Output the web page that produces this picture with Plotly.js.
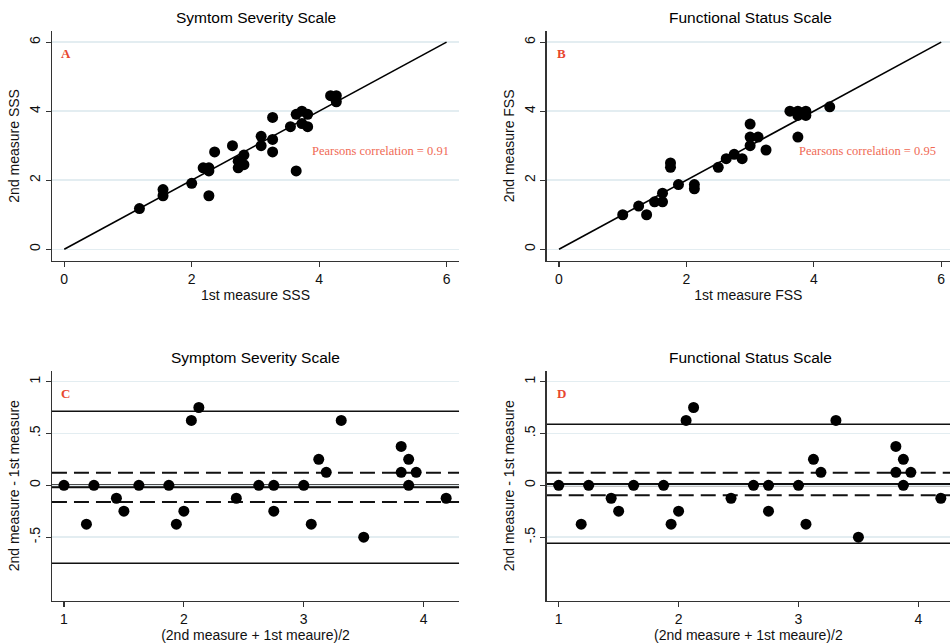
<!DOCTYPE html>
<html>
<head>
<meta charset="utf-8">
<script src="https://cdn.plot.ly/plotly-3.0.1.min.js"></script>
<style>html,body{margin:0;padding:0;background:#fff;}#chart{width:950px;height:644px;}</style>
</head>
<body>
<div id="chart"></div>
<script>
// Panel A: Symptom Severity Scale, test-retest
const sssFirst  = [1.18, 1.55, 1.55, 2.00, 2.18, 2.27, 2.27, 2.27, 2.36, 2.64, 2.73, 2.73, 2.82, 2.82, 3.09, 3.09, 3.27, 3.27, 3.27, 3.55, 3.64, 3.64, 3.73, 3.73, 3.82, 3.82, 4.18, 4.27, 4.27];
const sssSecond = [1.18, 1.73, 1.55, 1.91, 2.36, 2.36, 2.27, 1.55, 2.82, 3.00, 2.36, 2.55, 2.73, 2.45, 3.00, 3.27, 3.82, 3.18, 2.82, 3.55, 3.91, 2.27, 4.00, 3.64, 3.91, 3.55, 4.45, 4.45, 4.27];
// Panel B: Functional Status Scale, test-retest
const fssFirst  = [1.000, 1.250, 1.375, 1.500, 1.625, 1.625, 1.750, 1.750, 1.875, 2.125, 2.125, 2.500, 2.625, 2.750, 2.875, 3.000, 3.000, 3.000, 3.125, 3.250, 3.625, 3.750, 3.750, 3.750, 3.875, 3.875, 4.250];
const fssSecond = [1.000, 1.250, 1.000, 1.375, 1.375, 1.625, 2.500, 2.375, 1.875, 1.875, 1.750, 2.375, 2.625, 2.750, 2.625, 3.625, 3.250, 3.000, 3.250, 2.875, 4.000, 4.000, 3.250, 3.875, 4.000, 3.875, 4.125];
const identityLine = [0, 6];
// Panel C: Bland-Altman, SSS
const baMeanC = [1.0, 1.1875, 1.25, 1.4375, 1.5, 1.625, 1.875, 1.9375, 2.0, 2.0625, 2.125, 2.4375, 2.625, 2.75, 2.75, 3.0, 3.0625, 3.125, 3.1875, 3.3125, 3.5, 3.8125, 3.8125, 3.875, 3.875, 3.9375, 4.1875];
const baDiffC = [0, -0.375, 0, -0.125, -0.25, 0, 0, -0.375, -0.25, 0.625, 0.75, -0.125, 0, 0, -0.25, 0, -0.375, 0.25, 0.125, 0.625, -0.5, 0.375, 0.125, 0.25, 0, 0.125, -0.125];
const limitsC = [0.714, -0.752];
const ciC = [0.121, -0.161];
const meanLineC = [-0.019, 0];
// Panel D: Bland-Altman, FSS
const baMeanD = [1.0, 1.1875, 1.25, 1.4375, 1.5, 1.625, 1.875, 1.9375, 2.0, 2.0625, 2.125, 2.4375, 2.625, 2.75, 2.75, 3.0, 3.0625, 3.125, 3.1875, 3.3125, 3.5, 3.8125, 3.8125, 3.875, 3.875, 3.9375, 4.1875];
const baDiffD = [0, -0.375, 0, -0.125, -0.25, 0, 0, -0.375, -0.25, 0.625, 0.75, -0.125, 0, 0, -0.25, 0, -0.375, 0.25, 0.125, 0.625, -0.5, 0.375, 0.125, 0.25, 0, 0.125, -0.125];
const limitsD = [0.588, -0.559];
const ciD = [0.121, -0.096];
const meanLineD = [0.013, 0];

const titles = ['Symtom Severity Scale', 'Functional Status Scale', 'Symptom Severity Scale', 'Functional Status Scale'];
const panelLetters = ['A', 'B', 'C', 'D'];
const corrLabels = ['Pearsons correlation = 0.91', 'Pearsons correlation = 0.95'];

const FONT = 'Liberation Sans, Arial, Helvetica, sans-serif';
const SERIF = 'Liberation Serif, Times New Roman, serif';
const marker = {color: '#000', size: 11, line: {width: 0}};

const traces = [
  {x: identityLine, y: identityLine, mode: 'lines', line: {color: '#000', width: 1.6}, xaxis: 'x', yaxis: 'y', hoverinfo: 'skip'},
  {x: sssFirst, y: sssSecond, mode: 'markers', marker: marker, xaxis: 'x', yaxis: 'y'},
  {x: identityLine, y: identityLine, mode: 'lines', line: {color: '#000', width: 1.6}, xaxis: 'x2', yaxis: 'y2', hoverinfo: 'skip'},
  {x: fssFirst, y: fssSecond, mode: 'markers', marker: marker, xaxis: 'x2', yaxis: 'y2'},
  {x: baMeanC, y: baDiffC, mode: 'markers', marker: marker, xaxis: 'x3', yaxis: 'y3'},
  {x: baMeanD, y: baDiffD, mode: 'markers', marker: marker, xaxis: 'x4', yaxis: 'y4'}
];

function hline(ax, y, width, dash) {
  return {type: 'line', xref: 'x' + ax + ' domain', yref: 'y' + ax, x0: 0, x1: 1, y0: y, y1: y,
          line: {color: '#111', width: width, dash: dash || 'solid'}, layer: 'below'};
}
const shapes = [];
limitsC.forEach(v => shapes.push(hline(3, v, 1.5)));
ciC.forEach(v => shapes.push(hline(3, v, 1.8, '15px,7px')));
meanLineC.forEach(v => shapes.push(hline(3, v, 2.1)));
limitsD.forEach(v => shapes.push(hline(4, v, 1.5)));
ciD.forEach(v => shapes.push(hline(4, v, 1.8, '15px,7px')));
meanLineD.forEach(v => shapes.push(hline(4, v, 2.1)));

function xax(domain, range, tickvals, ticktext, title, anchor) {
  return {domain: domain, range: range, tickvals: tickvals, ticktext: ticktext, anchor: anchor,
    showline: true, linecolor: '#333', linewidth: 1.4, ticks: 'outside', ticklen: 5, tickwidth: 1.2, tickcolor: '#333',
    showgrid: false, zeroline: false, tickfont: {family: FONT, size: 14, color: '#111'},
    title: {text: title, font: {family: FONT, size: 14, color: '#111'}, standoff: 4}};
}
function yax(domain, range, tickvals, ticktext, title, anchor) {
  return {domain: domain, range: range, tickvals: tickvals, ticktext: ticktext, anchor: anchor,
    showline: true, linecolor: '#333', linewidth: 1.4, ticks: 'outside', ticklen: 5, tickwidth: 1.2, tickcolor: '#333',
    showgrid: true, gridcolor: '#e3edf1', gridwidth: 1.5, zeroline: false, tickangle: -90,
    tickfont: {family: FONT, size: 14, color: '#111'},
    title: {text: title, font: {family: FONT, size: 14, color: '#111'}, standoff: 4}};
}

const dAx = [0.0547, 0.4832], dBx = [0.5755, 1.0];
const topY = [0.5947, 0.9523], botY = [0.0672, 0.4244];

const layout = {
  width: 950, height: 644, margin: {l: 0, r: 0, t: 0, b: 0},
  paper_bgcolor: '#fff', plot_bgcolor: '#fff', showlegend: false,
  xaxis:  xax(dAx, [-0.193, 6.196], [0, 2, 4, 6], ['0', '2', '4', '6'], '1st measure SSS', 'y'),
  yaxis:  yax(topY, [-0.34, 6.33], [0, 2, 4, 6], ['0', '2', '4', '6'], '2nd measure SSS', 'x'),
  xaxis2: xax(dBx, [-0.193, 6.138], [0, 2, 4, 6], ['0', '2', '4', '6'], '1st measure FSS', 'y2'),
  yaxis2: yax(topY, [-0.34, 6.33], [0, 2, 4, 6], ['0', '2', '4', '6'], '2nd measure FSS', 'x2'),
  xaxis3: xax(dAx, [0.9, 4.295], [1, 2, 3, 4], ['1', '2', '3', '4'], '(2nd measure + 1st meaure)/2', 'y3'),
  yaxis3: yax(botY, [-1.113, 1.105], [-0.5, 0, 0.5, 1], ['-.5', '0', '.5', '1'], '2nd measure - 1st measure', 'x3'),
  xaxis4: xax(dBx, [0.9, 4.264], [1, 2, 3, 4], ['1', '2', '3', '4'], '(2nd measure + 1st meaure)/2', 'y4'),
  yaxis4: yax(botY, [-1.113, 1.105], [-0.5, 0, 0.5, 1], ['-.5', '0', '.5', '1'], '2nd measure - 1st measure', 'x4'),
  shapes: shapes,
  annotations: [
    {text: titles[0], xref: 'paper', yref: 'paper', x: 255.5/950, y: 1 - 17/644, showarrow: false, font: {family: FONT, size: 15.5, color: '#000'}, xanchor: 'center', yanchor: 'middle'},
    {text: titles[1], xref: 'paper', yref: 'paper', x: 750/950, y: 1 - 17/644, showarrow: false, font: {family: FONT, size: 15.5, color: '#000'}, xanchor: 'center', yanchor: 'middle'},
    {text: titles[2], xref: 'paper', yref: 'paper', x: 255.5/950, y: 1 - 357/644, showarrow: false, font: {family: FONT, size: 15.5, color: '#000'}, xanchor: 'center', yanchor: 'middle'},
    {text: titles[3], xref: 'paper', yref: 'paper', x: 750/950, y: 1 - 357/644, showarrow: false, font: {family: FONT, size: 15.5, color: '#000'}, xanchor: 'center', yanchor: 'middle'},
    {text: '<b>' + panelLetters[0] + '</b>', xref: 'x', yref: 'y', x: 0.03, y: 5.68, showarrow: false, font: {family: SERIF, size: 13, color: '#e8472f'}},
    {text: '<b>' + panelLetters[1] + '</b>', xref: 'x2', yref: 'y2', x: 0.04, y: 5.68, showarrow: false, font: {family: SERIF, size: 13, color: '#e8472f'}},
    {text: '<b>' + panelLetters[2] + '</b>', xref: 'x3', yref: 'y3', x: 1.014, y: 0.887, showarrow: false, font: {family: SERIF, size: 13, color: '#e8472f'}},
    {text: '<b>' + panelLetters[3] + '</b>', xref: 'x4', yref: 'y4', x: 1.022, y: 0.887, showarrow: false, font: {family: SERIF, size: 13, color: '#e8472f'}},
    {text: corrLabels[0], xref: 'x', yref: 'y', x: 4.96, y: 2.85, showarrow: false, font: {family: SERIF, size: 12.5, color: '#f06a55'}},
    {text: corrLabels[1], xref: 'x2', yref: 'y2', x: 4.84, y: 2.85, showarrow: false, font: {family: SERIF, size: 12.5, color: '#f06a55'}}
  ]
};

Plotly.newPlot('chart', traces, layout, {staticPlot: true, displayModeBar: false});
</script>
</body>
</html>
